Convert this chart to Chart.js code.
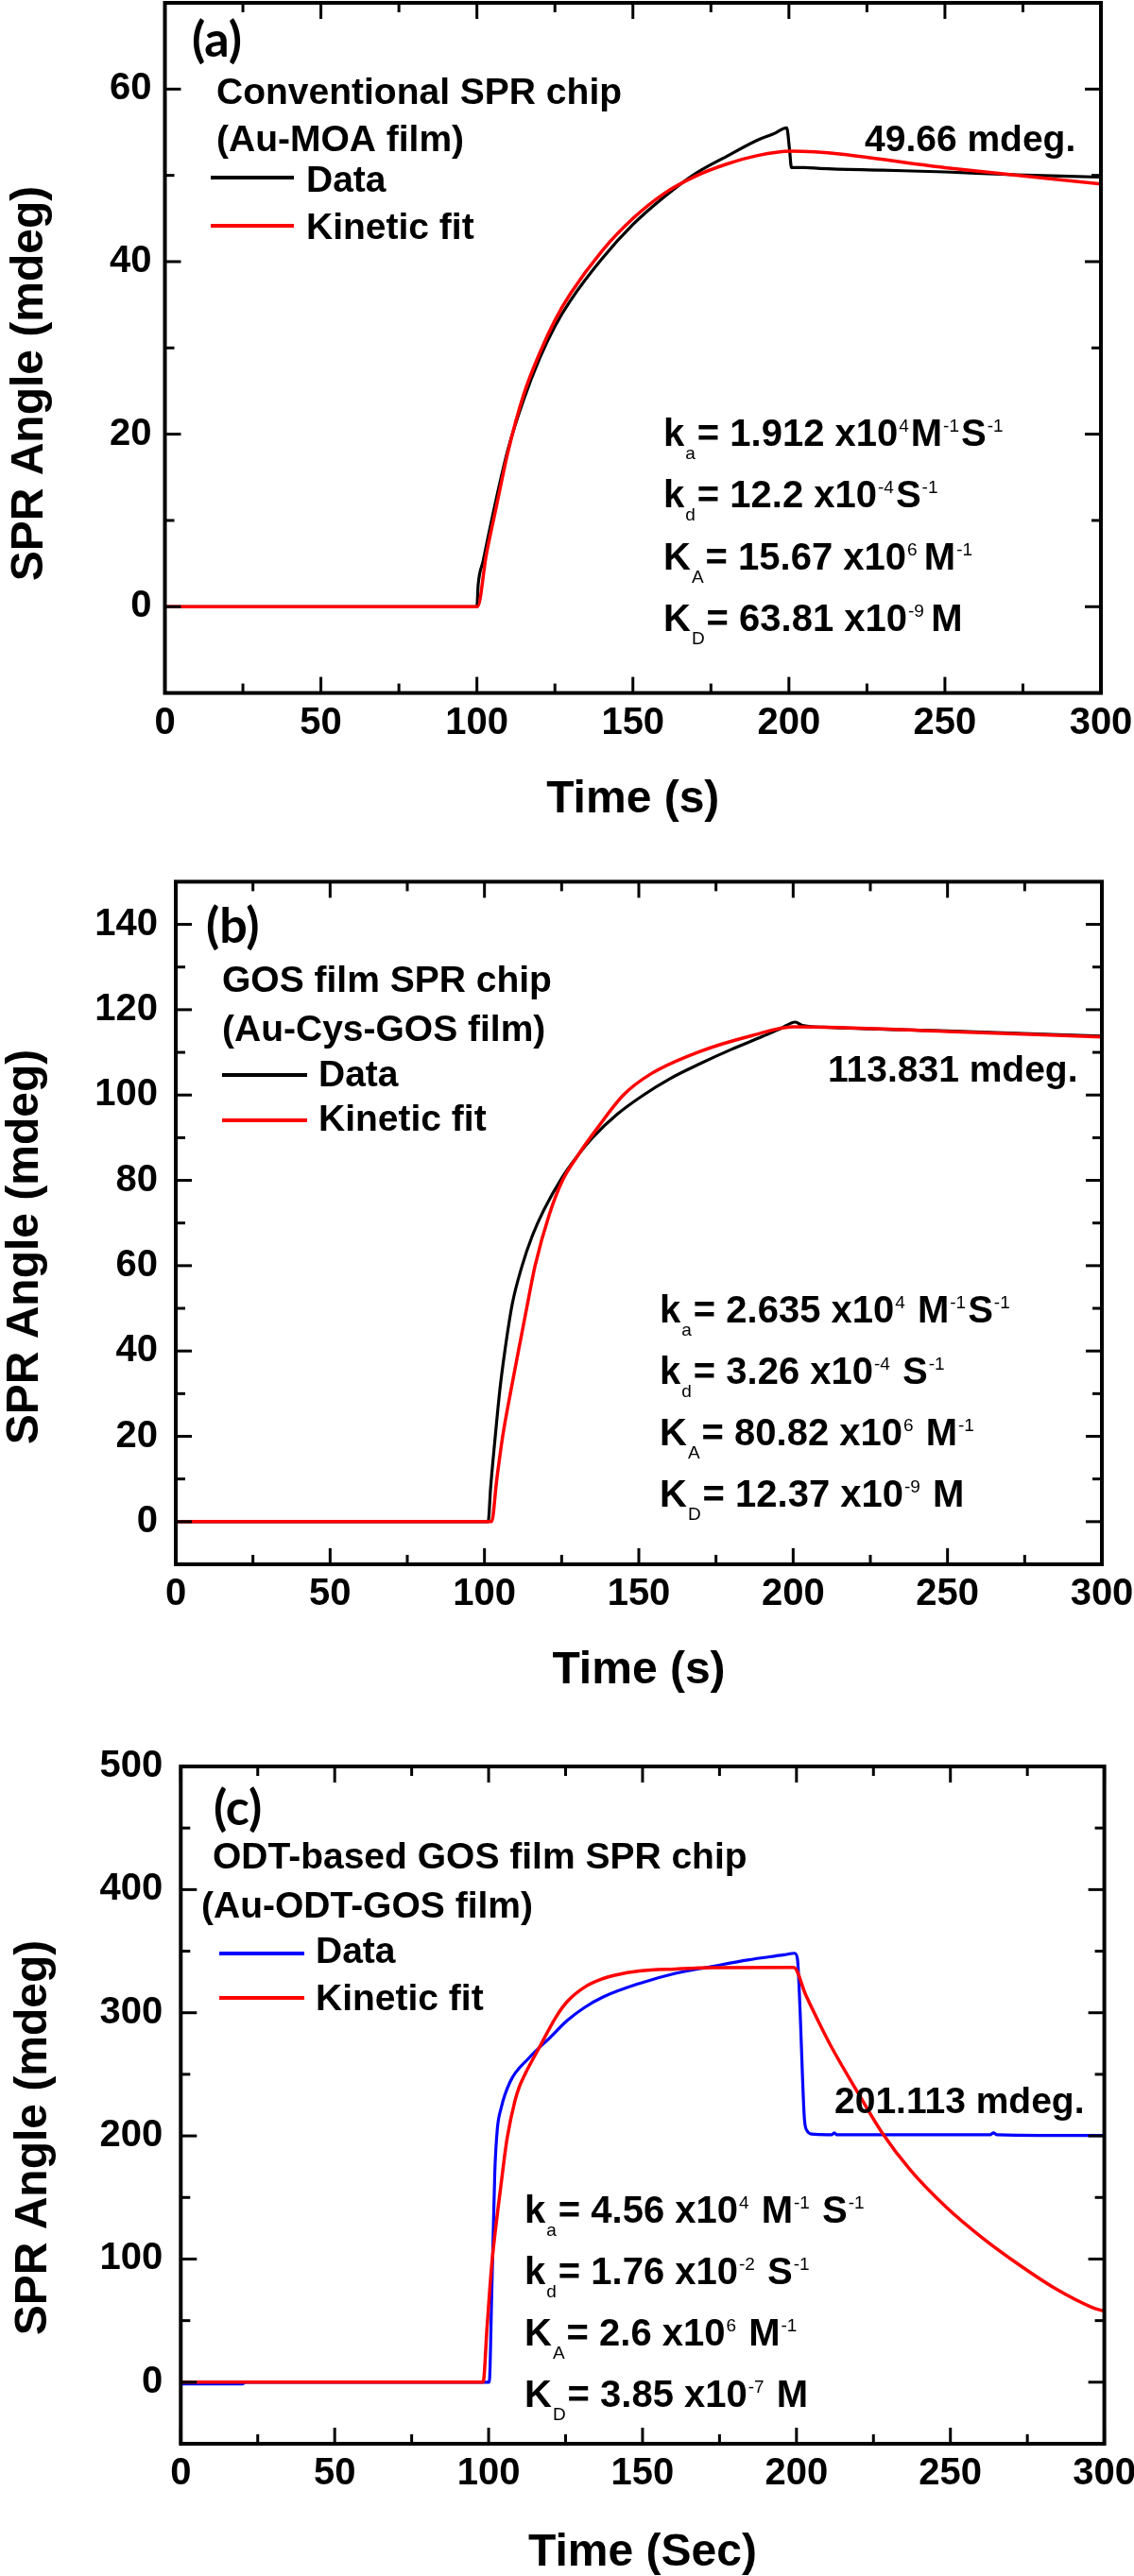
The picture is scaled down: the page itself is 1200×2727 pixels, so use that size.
<!DOCTYPE html>
<html><head><meta charset="utf-8">
<script src="https://cdn.jsdelivr.net/npm/chart.js@4.4.1/dist/chart.umd.min.js"></script>
<style>
html,body{margin:0;padding:0;background:#fff;}
#wrap{position:relative;width:1200px;height:2727px;background:#fff;overflow:hidden;}
canvas{position:absolute;left:0;}
</style></head><body>
<div id="wrap">
<canvas id="ca" width="1200" height="880" style="top:0px"></canvas>
<canvas id="cb" width="1200" height="920" style="top:880px"></canvas>
<canvas id="cc" width="1200" height="927" style="top:1800px"></canvas>
</div>
<script>
// ---------- shared axis ticks ----------
const xTicks = [0, 50, 100, 150, 200, 250, 300];
const xMinor = [25, 75, 125, 175, 225, 275];

// ---------- panel (a) ----------
const aYTicks = [0, 20, 40, 60];
const aYMinor = [10, 30, 50];
const aDataT = [0, 50, 100, 100.4, 102, 104, 107, 110, 115, 120, 125, 130, 140, 150, 160, 170, 180, 190, 195, 199.3, 200.2, 200.8, 205, 210, 230, 250, 270, 300];
const aDataY = [0, 0, 0, 2.5, 5.3, 8.8, 13.8, 18.3, 24, 28.7, 32.5, 35.5, 40.3, 44.3, 47.5, 50.2, 52.2, 54.1, 54.8, 55.5, 53, 50.9, 50.9, 50.8, 50.6, 50.4, 50.1, 49.8];
const aFitT = [0, 100, 100.2, 103, 106, 110, 115, 120, 125, 130, 140, 150, 160, 170, 180, 190, 200.5, 250, 300];
const aFitY = [0, 0, 0, 6, 11.2, 18, 24.6, 29.3, 33.2, 36.3, 41.2, 45, 47.9, 49.9, 51.3, 52.3, 52.8, 50.9, 49.0];

// ---------- panel (b) ----------
const bYTicks = [0, 20, 40, 60, 80, 100, 120, 140];
const bYMinor = [10, 30, 50, 70, 90, 110, 130];
const bDataT = [0, 50, 101.2, 102, 103.5, 105, 106.6, 109, 112.2, 115.5, 119.2, 125, 130.4, 135, 143, 151.5, 160, 170, 180, 190, 196, 200.7, 203, 210, 250, 300];
const bDataY = [0, 0, 0, 8, 20, 31, 40, 51, 60, 67, 73, 80.5, 86, 90, 95.5, 100, 103.8, 107.4, 110.7, 113.7, 115.6, 117.1, 116.3, 115.9, 115, 113.8];
const bFitT = [0, 100, 102.3, 104, 105.9, 108.5, 111, 113.8, 116.4, 121, 125.3, 130.4, 136.3, 145, 154, 169, 187, 200, 250, 300];
const bFitY = [0, 0, 0, 10, 20, 30.5, 40, 50.5, 60, 72, 80, 86, 92, 100, 105, 110, 114, 116, 114.9, 113.6];

// ---------- panel (c) ----------
const cYTicks = [0, 100, 200, 300, 400, 500];
const cYMinor = [50, 150, 250, 350, 450];
const cDataT = [0, 20, 21, 100.2, 101, 102, 102.8, 104, 107, 113, 120, 125.5, 131, 137.2, 149, 160.7, 172.4, 184.2, 195.9, 199.4, 200.3, 201.2, 202, 202.6, 203.5, 205, 210, 211.5, 212.3, 213, 263, 264, 265, 300];
const cDataY = [-1.5, -1.5, 0, 0, 70, 170, 205, 222, 244, 263, 280, 293.6, 304, 312.8, 323.8, 332, 337.5, 342.9, 347, 348.3, 344, 300, 245, 213, 204, 201.5, 201, 201, 202.5, 201, 201, 202.5, 201, 200.3];
const cFitT = [0, 98.2, 99.5, 101, 103, 105, 106, 108.5, 110, 112, 116.3, 122, 125.5, 131.3, 137.2, 141, 149, 160.7, 172.4, 199.1, 203, 207.7, 211.4, 219.5, 227.7, 237.1, 248.8, 260.5, 272.3, 284, 295.8, 300];
const cFitY = [0, 0, 45, 95, 140, 180, 198, 228, 240, 251, 271, 297, 309, 321, 327.8, 330.5, 333.9, 335.5, 336.6, 336.8, 314.5, 290, 272, 237, 203, 172, 141.8, 117, 95.4, 76.2, 61, 57.5];

const FONT = "'Liberation Sans', Arial, Helvetica, sans-serif";
const zip = (t, y) => t.map((v, i) => ({ x: v, y: y[i] }));

function drawRich(ctx, x, y, segs) {
  let cx = x;
  for (const s of segs) {
    const txt = s[0], mode = s[1];
    if (mode === 'sub' || mode === 'sup') {
      ctx.font = '400 19px ' + FONT;
      const dy = mode === 'sub' ? 14 : -15;
      cx += 1;
      ctx.fillText(txt, cx, y + dy);
      cx += ctx.measureText(txt).width + 2;
    } else {
      ctx.font = '700 40px ' + FONT;
      ctx.fillText(txt, cx, y);
      cx += ctx.measureText(txt).width;
    }
  }
}

const annotPlugin = {
  id: 'annot',
  afterDatasetsDraw(chart, args, o) {
    const ctx = chart.ctx, a = chart.chartArea, xs = chart.scales.x, ys = chart.scales.y;
    ctx.save();
    ctx.strokeStyle = '#000';
    ctx.lineCap = 'butt';
    ctx.lineWidth = 3;
    const seg = (x1, y1, x2, y2) => { ctx.beginPath(); ctx.moveTo(x1, y1); ctx.lineTo(x2, y2); ctx.stroke(); };
    xTicks.forEach(v => { const p = xs.getPixelForValue(v); seg(p, a.bottom, p, a.bottom - 17); seg(p, a.top, p, a.top + 17); });
    xMinor.forEach(v => { const p = xs.getPixelForValue(v); seg(p, a.bottom, p, a.bottom - 10); seg(p, a.top, p, a.top + 10); });
    o.yMajor.forEach(v => { const p = ys.getPixelForValue(v); seg(a.left, p, a.left + 17, p); seg(a.right, p, a.right - 17, p); });
    o.yMinor.forEach(v => { const p = ys.getPixelForValue(v); seg(a.left, p, a.left + 10, p); seg(a.right, p, a.right - 10, p); });
    ctx.lineWidth = 4;
    ctx.lineJoin = 'miter';
    ctx.strokeRect(a.left, a.top, a.right - a.left, a.bottom - a.top);
    ctx.restore();
  },
  afterDraw(chart, args, o) {
    const ctx = chart.ctx;
    ctx.save();
    ctx.fillStyle = '#000';
    ctx.font = '700 52px Lato, ' + FONT;
    ctx.textBaseline = 'middle';
    ctx.textAlign = 'left';
    ctx.fillText(o.letter.text, o.letter.x, o.letter.y);
    ctx.textBaseline = 'alphabetic';
    ctx.font = '700 39px ' + FONT;
    o.titles.forEach(t => ctx.fillText(t.text, t.x, t.y));
    o.legend.forEach(l => {
      ctx.strokeStyle = l.color; ctx.lineWidth = 4;
      ctx.beginPath(); ctx.moveTo(o.legX0, l.y); ctx.lineTo(o.legX1, l.y); ctx.stroke();
      ctx.font = '700 39px ' + FONT;
      ctx.fillText(l.text, o.legTX, l.ty);
    });
    ctx.font = '700 39px ' + FONT;
    ctx.fillText(o.value.text, o.value.x, o.value.y);
    o.params.lines.forEach((ln, i) => drawRich(ctx, o.params.x, o.params.y[i], ln));
    ctx.translate(o.yTitle.x, o.yTitle.y);
    ctx.rotate(-Math.PI / 2);
    ctx.font = '700 48px ' + FONT;
    ctx.textAlign = 'center';
    ctx.textBaseline = 'middle';
    ctx.fillText(o.yTitle.text, 0, 0);
    ctx.restore();
  }
};

function makeChart(id, c) {
  return new Chart(document.getElementById(id), {
    type: 'line',
    data: {
      datasets: [
        { label: 'Kinetic fit', data: zip(c.fitT, c.fitY), borderColor: '#ff0000', borderWidth: 3.5,
          pointRadius: 0, pointHitRadius: 0, cubicInterpolationMode: 'monotone', fill: false, order: 0 },
        { label: 'Data', data: zip(c.dataT, c.dataY), borderColor: c.dataColor, borderWidth: 3.2,
          pointRadius: 0, pointHitRadius: 0, cubicInterpolationMode: 'monotone', fill: false, order: 1 }
      ]
    },
    options: {
      responsive: false, animation: false, devicePixelRatio: 1,
      layout: { padding: { left: 0, top: c.top, right: c.right, bottom: 0 } },
      plugins: { legend: { display: false }, tooltip: { enabled: false }, annot: c.annot },
      scales: {
        x: {
          type: 'linear', min: 0, max: 300,
          grid: { display: false, drawTicks: false }, border: { display: false },
          afterBuildTicks: s => { s.ticks = xTicks.map(v => ({ value: v })); },
          afterFit: s => { s.height = c.xH; s.paddingLeft = 0; s.paddingRight = 0; },
          ticks: { font: { size: 40, weight: 'bold', family: FONT, lineHeight: 1.2 }, color: '#000',
                   padding: 8, maxRotation: 0, autoSkip: false },
          title: { display: true, text: c.xTitle, color: '#000',
                   font: { size: 48, weight: 'bold', family: FONT, lineHeight: 1 },
                   padding: { top: 0, bottom: c.xTitlePad } }
        },
        y: {
          type: 'linear', min: c.yMin, max: c.yMax,
          grid: { display: false, drawTicks: false }, border: { display: false },
          afterBuildTicks: s => { s.ticks = c.yTicks.map(v => ({ value: v })); },
          afterFit: s => { s.width = c.yW; s.paddingTop = 0; s.paddingBottom = 0; },
          ticks: { font: { size: 40, weight: 'bold', family: FONT }, color: '#000',
                   padding: c.yPad, autoSkip: false }
        }
      }
    },
    plugins: [annotPlugin]
  });
}

makeChart('ca', {
  fitT: aFitT, fitY: aFitY, dataT: aDataT, dataY: aDataY, dataColor: '#000000',
  top: 3, right: 35, xH: 146.4, yW: 174.5, yPad: 14, xTitle: 'Time (s)', xTitlePad: 9,
  yMin: -10, yMax: 70, yTicks: aYTicks,
  annot: {
    yMajor: aYTicks, yMinor: aYMinor,
    letter: { text: '(a)', x: 203, y: 43 },
    titles: [{ text: 'Conventional SPR chip', x: 229, y: 110 }, { text: '(Au-MOA film)', x: 229, y: 160 }],
    legX0: 223, legX1: 311, legTX: 324,
    legend: [{ color: '#000000', y: 188, text: 'Data', ty: 203 }, { color: '#ff0000', y: 239, text: 'Kinetic fit', ty: 253 }],
    value: { text: '49.66 mdeg.', x: 915, y: 160 },
    params: { x: 702, y: [472, 537, 603, 668], lines: [
      [['k'], ['a', 'sub'], ['= 1.912 x10'], ['4', 'sup'], ['M'], ['-1', 'sup'], ['S'], ['-1', 'sup']],
      [['k'], ['d', 'sub'], ['= 12.2 x10'], ['-4', 'sup'], ['S'], ['-1', 'sup']],
      [['K'], ['A', 'sub'], ['= 15.67 x10'], ['6 ', 'sup'], ['M'], ['-1', 'sup']],
      [['K'], ['D', 'sub'], ['= 63.81 x10'], ['-9 ', 'sup'], ['M']]
    ] },
    yTitle: { text: 'SPR Angle (mdeg)', x: 32, y: 406 }
  }
});

makeChart('cb', {
  fitT: bFitT, fitY: bFitY, dataT: bDataT, dataY: bDataY, dataColor: '#000000',
  top: 53.4, right: 34, xH: 144, yW: 186, yPad: 19, xTitle: 'Time (s)', xTitlePad: 7,
  yMin: -10, yMax: 150, yTicks: bYTicks,
  annot: {
    yMajor: bYTicks, yMinor: bYMinor,
    letter: { text: '(b)', x: 218, y: 101 },
    titles: [{ text: 'GOS film SPR chip', x: 235, y: 170 }, { text: '(Au-Cys-GOS film)', x: 235, y: 222 }],
    legX0: 235, legX1: 325, legTX: 337,
    legend: [{ color: '#000000', y: 258, text: 'Data', ty: 270 }, { color: '#ff0000', y: 306, text: 'Kinetic fit', ty: 317 }],
    value: { text: '113.831 mdeg.', x: 876, y: 265 },
    params: { x: 698, y: [520, 585, 650, 715], lines: [
      [['k'], ['a', 'sub'], ['= 2.635 x10'], ['4', 'sup'], [' M'], ['-1', 'sup'], ['S'], ['-1', 'sup']],
      [['k'], ['d', 'sub'], ['= 3.26 x10'], ['-4', 'sup'], [' S'], ['-1', 'sup']],
      [['K'], ['A', 'sub'], ['= 80.82 x10'], ['6', 'sup'], [' M'], ['-1', 'sup']],
      [['K'], ['D', 'sub'], ['= 12.37 x10'], ['-9', 'sup'], [' M']]
    ] },
    yTitle: { text: 'SPR Angle (mdeg)', x: 27, y: 440 }
  }
});

makeChart('cc', {
  fitT: cFitT, fitY: cFitY, dataT: cDataT, dataY: cDataY, dataColor: '#0000ff',
  top: 70, right: 31.4, xH: 140, yW: 191.3, yPad: 19, xTitle: 'Time (Sec)', xTitlePad: 0,
  yMin: -50, yMax: 500, yTicks: cYTicks,
  annot: {
    yMajor: cYTicks, yMinor: cYMinor,
    letter: { text: '(c)', x: 226, y: 115 },
    titles: [{ text: 'ODT-based GOS film SPR chip', x: 225, y: 178 }, { text: '(Au-ODT-GOS film)', x: 213, y: 230 }],
    legX0: 232, legX1: 322, legTX: 334,
    legend: [{ color: '#0000ff', y: 268, text: 'Data', ty: 278 }, { color: '#ff0000', y: 315, text: 'Kinetic fit', ty: 328 }],
    value: { text: '201.113 mdeg.', x: 883, y: 437 },
    params: { x: 555, y: [553, 618, 683, 748], lines: [
      [['k'], ['a', 'sub'], ['= 4.56 x10'], ['4', 'sup'], [' M'], ['-1', 'sup'], [' S'], ['-1', 'sup']],
      [['k'], ['d', 'sub'], ['= 1.76 x10'], ['-2', 'sup'], [' S'], ['-1', 'sup']],
      [['K'], ['A', 'sub'], ['= 2.6 x10'], ['6', 'sup'], [' M'], ['-1', 'sup']],
      [['K'], ['D', 'sub'], ['= 3.85 x10'], ['-7', 'sup'], [' M']]
    ] },
    yTitle: { text: 'SPR Angle (mdeg)', x: 36, y: 463 }
  }
});
</script>
</body></html>
